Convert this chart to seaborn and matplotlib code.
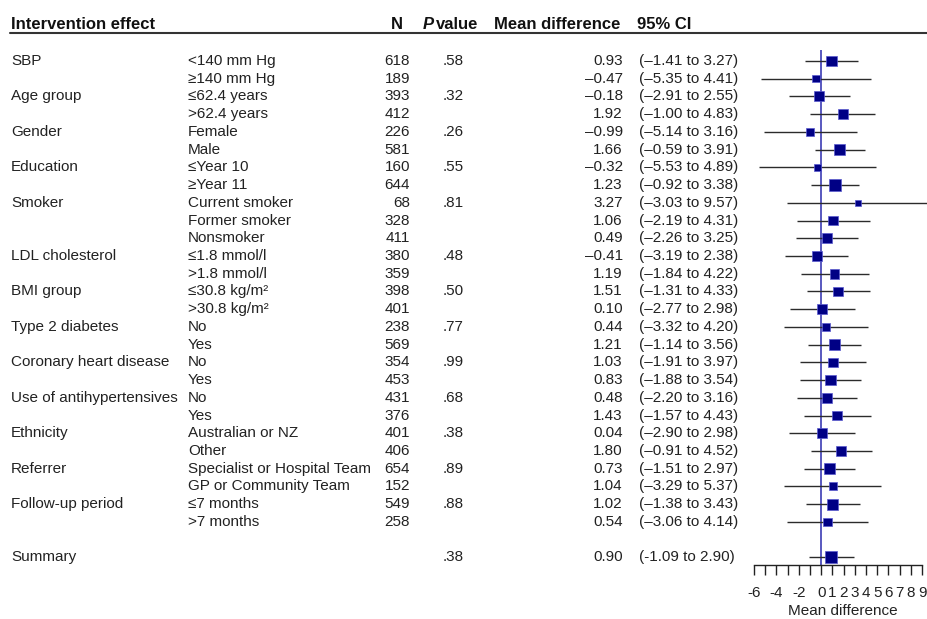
import numpy as np
import pandas as pd
import seaborn as sns
import matplotlib.pyplot as plt
from matplotlib.lines import Line2D
from matplotlib.transforms import blended_transform_factory

# ---------- data ----------
groups = ["SBP", "", "Age group", "", "Gender", "", "Education", "",
          "Smoker", "", "", "LDL cholesterol", "", "BMI group", "",
          "Type 2 diabetes", "", "Coronary heart disease", "",
          "Use of antihypertensives", "", "Ethnicity", "", "Referrer", "",
          "Follow-up period", ""]
subgroups = ["<140 mm Hg", "≥140 mm Hg", "≤62.4 years", ">62.4 years",
             "Female", "Male", "≤Year 10", "≥Year 11",
             "Current smoker", "Former smoker", "Nonsmoker",
             "≤1.8 mmol/l", ">1.8 mmol/l", "≤30.8 kg/m²", ">30.8 kg/m²",
             "No", "Yes", "No", "Yes", "No", "Yes",
             "Australian or NZ", "Other",
             "Specialist or Hospital Team", "GP or Community Team",
             "≤7 months", ">7 months"]
n_obs = [618, 189, 393, 412, 226, 581, 160, 644, 68, 328, 411, 380, 359,
         398, 401, 238, 569, 354, 453, 431, 376, 401, 406, 654, 152, 549, 258]
p_values = [".58", "", ".32", "", ".26", "", ".55", "", ".81", "", "",
            ".48", "", ".50", "", ".77", "", ".99", "", ".68", "", ".38", "",
            ".89", "", ".88", ""]
mean_diff = [0.93, -0.47, -0.18, 1.92, -0.99, 1.66, -0.32, 1.23, 3.27, 1.06,
             0.49, -0.41, 1.19, 1.51, 0.10, 0.44, 1.21, 1.03, 0.83, 0.48,
             1.43, 0.04, 1.80, 0.73, 1.04, 1.02, 0.54]
ci_low = [-1.41, -5.35, -2.91, -1.00, -5.14, -0.59, -5.53, -0.92, -3.03,
          -2.19, -2.26, -3.19, -1.84, -1.31, -2.77, -3.32, -1.14, -1.91,
          -1.88, -2.20, -1.57, -2.90, -0.91, -1.51, -3.29, -1.38, -3.06]
ci_high = [3.27, 4.41, 2.55, 4.83, 3.16, 3.91, 4.89, 3.38, 9.57, 4.31, 3.25,
           2.38, 4.22, 4.33, 2.98, 4.20, 3.56, 3.97, 3.54, 3.16, 4.43, 2.98,
           4.52, 2.97, 5.37, 3.43, 4.14]

summary_p = ".38"
summary_mean = 0.90
summary_low = -1.09
summary_high = 2.90

df = pd.DataFrame({
    "group": groups, "subgroup": subgroups, "n": n_obs, "p": p_values,
    "mean": mean_diff, "low": ci_low, "high": ci_high,
})
df["row"] = np.arange(len(df))
summary = pd.DataFrame({"mean": [summary_mean], "low": [summary_low],
                        "high": [summary_high], "row": [len(df) + 1]})

sns.set_theme(style="white")
plt.rcParams["font.family"] = ["Liberation Sans", "DejaVu Sans"]

W, H = 928, 619
fig = plt.figure(figsize=(W / 100, H / 100), dpi=100)


def fx(px):
    return px / W


def fy(py):
    return 1 - py / H


# forest axes: -6 at ~754 px, 9 at ~922 px
ax = fig.add_axes([fx(754), fy(565), fx(928) - fx(754), fy(50) - fy(565)])
ax.set_xlim(-6, 9.53)
ax.set_ylim(28.43, -0.62)

allrows = pd.concat([df[["mean", "low", "high", "row"]], summary],
                    ignore_index=True)
# square side ~ 1 / sqrt(CI width), like inverse-variance weighting
side_pt = 23.5 / np.sqrt(allrows["high"] - allrows["low"]) * 0.72

ax.hlines(allrows["row"], allrows["low"], allrows["high"],
          color="#2b2b2b", lw=1.0, zorder=2)
ax.axvline(0, color="#3c3cb4", lw=1.2, zorder=1)
sns.scatterplot(data=allrows, x="mean", y="row", marker="s",
                s=(side_pt ** 2).values, color="#000085",
                edgecolor="#5a5ad0", linewidth=0.5, zorder=3, ax=ax,
                legend=False)

for side in ["top", "right", "left"]:
    ax.spines[side].set_visible(False)
ax.spines["bottom"].set_bounds(-6, 9)
ax.spines["bottom"].set_color("#222222")
ax.spines["bottom"].set_linewidth(1.0)
ticks = list(range(-6, 10))
ax.set_xticks(ticks)
ax.set_xticklabels([str(t) if (t >= 0 or t % 2 == 0) else "" for t in ticks],
                   fontsize=11, color="#222222")
ax.tick_params(axis="x", direction="out", length=7, width=1,
               color="#222222", pad=8, bottom=True)
ax.set_yticks([])
ax.set_xlabel("")
ax.set_ylabel("")
fig.text(fx(843), fy(611), "Mean difference", ha="center", va="center",
         fontsize=11, color="#222222")

# table text
tr = blended_transform_factory(fig.transFigure, ax.transData)
txt = dict(fontsize=11, color="#222222", va="center", transform=tr,
           clip_on=False)


def fmt(v):
    return f"{v:.2f}".replace("-", "–")


for _, r in df.iterrows():
    y = r["row"]
    ax.text(fx(11), y, r["group"], ha="left", **txt)
    ax.text(fx(188), y, r["subgroup"], ha="left", **txt)
    ax.text(fx(410), y, str(r["n"]), ha="right", **txt)
    ax.text(fx(443), y, r["p"], ha="left", **txt)
    ax.text(fx(623), y, fmt(r["mean"]), ha="right", **txt)
    ax.text(fx(639), y, f"({fmt(r['low'])} to {fmt(r['high'])})",
            ha="left", **txt)

ys = summary["row"][0]
ax.text(fx(11), ys, "Summary", ha="left", **txt)
ax.text(fx(443), ys, summary_p, ha="left", **txt)
ax.text(fx(623), ys, f"{summary_mean:.2f}", ha="right", **txt)
ax.text(fx(639), ys, f"({summary_low:.2f} to {summary_high:.2f})",
        ha="left", **txt)

# header
hdr = dict(fontsize=12, fontweight="bold", color="#111111", va="center")
yh = fy(24.5)
fig.text(fx(11), yh, "Intervention effect", ha="left", **hdr)
fig.text(fx(403), yh, "N", ha="right", **hdr)
fig.text(fx(423), yh, "P", ha="left", fontstyle="italic", **hdr)
fig.text(fx(436), yh, "value", ha="left", **hdr)
fig.text(fx(494), yh, "Mean difference", ha="left", **hdr)
fig.text(fx(637), yh, "95% CI", ha="left", **hdr)
fig.add_artist(Line2D([fx(10), fx(928)], [fy(32.7), fy(32.7)],
                      color="#333333", lw=1.5))

fig.savefig("out.png", dpi=100)
